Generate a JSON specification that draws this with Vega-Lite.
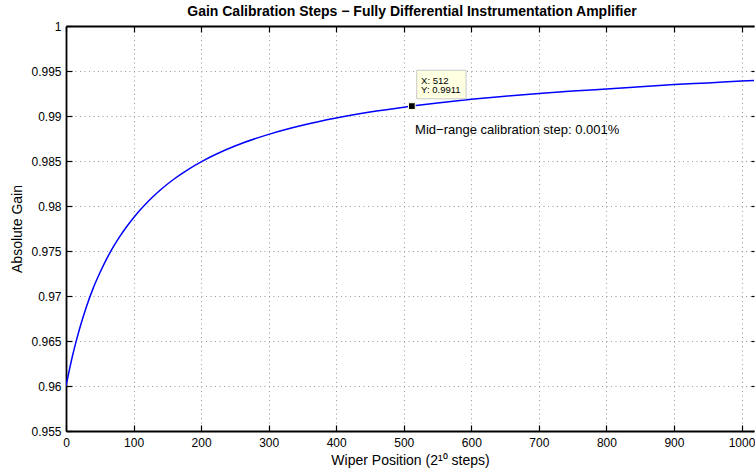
{
  "$schema": "https://vega.github.io/schema/vega-lite/v6.json",
  "width": 688,
  "height": 405,
  "autosize": {"type": "none"},
  "padding": {"left": 66, "top": 26, "right": 1, "bottom": 44},
  "background": "white",
  "config": {
    "view": {"stroke": null},
    "font": "Liberation Sans",
    "axis": {
      "labelFont": "Liberation Sans",
      "titleFont": "Liberation Sans",
      "labelFontSize": 12,
      "titleFontSize": 14,
      "titleFontWeight": "normal",
      "labelColor": "black",
      "titleColor": "black",
      "domainColor": "black",
      "domainWidth": 1.8,
      "tickColor": "black",
      "tickWidth": 1.2,
      "gridColor": "#999999",
      "gridDash": [1, 3.5],
      "gridWidth": 1,
      "gridOpacity": 1
    }
  },
  "title": {
    "text": "Gain Calibration Steps − Fully Differential Instrumentation Amplifier",
    "font": "Liberation Sans",
    "fontSize": 14,
    "fontWeight": "bold",
    "color": "black",
    "anchor": "middle",
    "baseline": "alphabetic",
    "offset": -10,
    "dx": 2
  },
  "datasets": {
    "curve": [
      {"position": 0, "gain": 0.96001},
      {"position": 5, "gain": 0.96180},
      {"position": 10, "gain": 0.96347},
      {"position": 15, "gain": 0.96496},
      {"position": 20, "gain": 0.96634},
      {"position": 30, "gain": 0.96876},
      {"position": 40, "gain": 0.97082},
      {"position": 50, "gain": 0.97255},
      {"position": 60, "gain": 0.97410},
      {"position": 70, "gain": 0.97545},
      {"position": 80, "gain": 0.97665},
      {"position": 90, "gain": 0.97772},
      {"position": 100, "gain": 0.97870},
      {"position": 120, "gain": 0.98038},
      {"position": 140, "gain": 0.98180},
      {"position": 160, "gain": 0.98300},
      {"position": 180, "gain": 0.98402},
      {"position": 200, "gain": 0.98490},
      {"position": 250, "gain": 0.98666},
      {"position": 300, "gain": 0.98796},
      {"position": 350, "gain": 0.98897},
      {"position": 400, "gain": 0.98978},
      {"position": 450, "gain": 0.99044},
      {"position": 500, "gain": 0.99098},
      {"position": 512, "gain": 0.99110},
      {"position": 550, "gain": 0.99145},
      {"position": 600, "gain": 0.99185},
      {"position": 650, "gain": 0.99220},
      {"position": 700, "gain": 0.99250},
      {"position": 750, "gain": 0.99277},
      {"position": 800, "gain": 0.99300},
      {"position": 850, "gain": 0.99325},
      {"position": 900, "gain": 0.99350},
      {"position": 950, "gain": 0.99368},
      {"position": 1000, "gain": 0.99388},
      {"position": 1023, "gain": 0.99396}
    ],
    "tipbox": [
      {"x1": 519.2, "x2": 592.3, "y1": 0.99508, "y2": 0.99191}
    ],
    "tiptext": [
      {"x": 525.7, "y": 0.99393, "label": "X: 512"},
      {"x": 525.7, "y": 0.99286, "label": "Y: 0.9911"}
    ],
    "marker": [
      {"position": 512, "gain": 0.9911}
    ],
    "note": [
      {"x": 516.8, "y": 0.98849, "label": "Mid−range calibration step: 0.001%"}
    ]
  },
  "layer": [
    {
      "data": {"name": "curve"},
      "mark": {"type": "line", "color": "#0000FF", "strokeWidth": 1.5, "clip": true, "interpolate": "monotone"},
      "encoding": {
        "x": {
          "field": "position", "type": "quantitative",
          "scale": {"domain": [0, 1018.5], "nice": false, "zero": false},
          "axis": {
            "orient": "bottom",
            "title": "Wiper Position (2¹⁰ steps)",
            "values": [0, 100, 200, 300, 400, 500, 600, 700, 800, 900, 1000],
            "format": "d",
            "grid": true,
            "tickSize": -6,
            "labelPadding": 12,
            "titlePadding": 5,
            "labelFlush": false,
            "labelOverlap": false
          }
        },
        "y": {
          "field": "gain", "type": "quantitative",
          "scale": {"domain": [0.955, 1], "nice": false, "zero": false},
          "axis": {
            "orient": "left",
            "title": "Absolute Gain",
            "values": [0.955, 0.96, 0.965, 0.97, 0.975, 0.98, 0.985, 0.99, 0.995, 1],
            "format": ".3~f",
            "grid": true,
            "tickSize": -6,
            "labelPadding": 11,
            "titlePadding": 6,
            "labelFlush": false,
            "labelOverlap": false
          }
        }
      }
    },
    {
      "data": {"name": "curve"},
      "mark": {"type": "line", "opacity": 0},
      "encoding": {
        "x": {
          "field": "position", "type": "quantitative",
          "axis": {
            "orient": "top",
            "title": null,
            "labels": false,
            "grid": false,
            "values": [0, 100, 200, 300, 400, 500, 600, 700, 800, 900, 1000],
            "tickSize": -6
          }
        },
        "y": {
          "field": "gain", "type": "quantitative",
          "axis": {
            "orient": "right",
            "title": null,
            "labels": false,
            "grid": false,
            "domain": false,
            "values": [0.955, 0.96, 0.965, 0.97, 0.975, 0.98, 0.985, 0.99, 0.995, 1],
            "tickSize": -3
          }
        }
      }
    },
    {
      "data": {"name": "tipbox"},
      "mark": {"type": "rect", "fill": "#FFFFE1", "stroke": "#C8C8C8", "strokeWidth": 1},
      "encoding": {
        "x": {"field": "x1", "type": "quantitative", "axis": null},
        "x2": {"field": "x2"},
        "y": {"field": "y1", "type": "quantitative", "axis": null},
        "y2": {"field": "y2"}
      }
    },
    {
      "data": {"name": "tiptext"},
      "mark": {"type": "text", "align": "left", "baseline": "middle", "fontSize": 9.5, "font": "Liberation Sans", "color": "black"},
      "encoding": {
        "x": {"field": "x", "type": "quantitative", "axis": null},
        "y": {"field": "y", "type": "quantitative", "axis": null},
        "text": {"field": "label"}
      }
    },
    {
      "data": {"name": "marker"},
      "mark": {"type": "point", "shape": "square", "size": 45, "filled": true, "fill": "black", "stroke": "#FFFFE1", "strokeWidth": 1, "opacity": 1},
      "encoding": {
        "x": {"field": "position", "type": "quantitative", "axis": null},
        "y": {"field": "gain", "type": "quantitative", "axis": null}
      }
    },
    {
      "data": {"name": "note"},
      "mark": {"type": "text", "align": "left", "baseline": "middle", "fontSize": 13, "font": "Liberation Sans", "color": "black"},
      "encoding": {
        "x": {"field": "x", "type": "quantitative", "axis": null},
        "y": {"field": "y", "type": "quantitative", "axis": null},
        "text": {"field": "label"}
      }
    }
  ],
  "resolve": {"axis": {"x": "independent", "y": "independent"}}
}
